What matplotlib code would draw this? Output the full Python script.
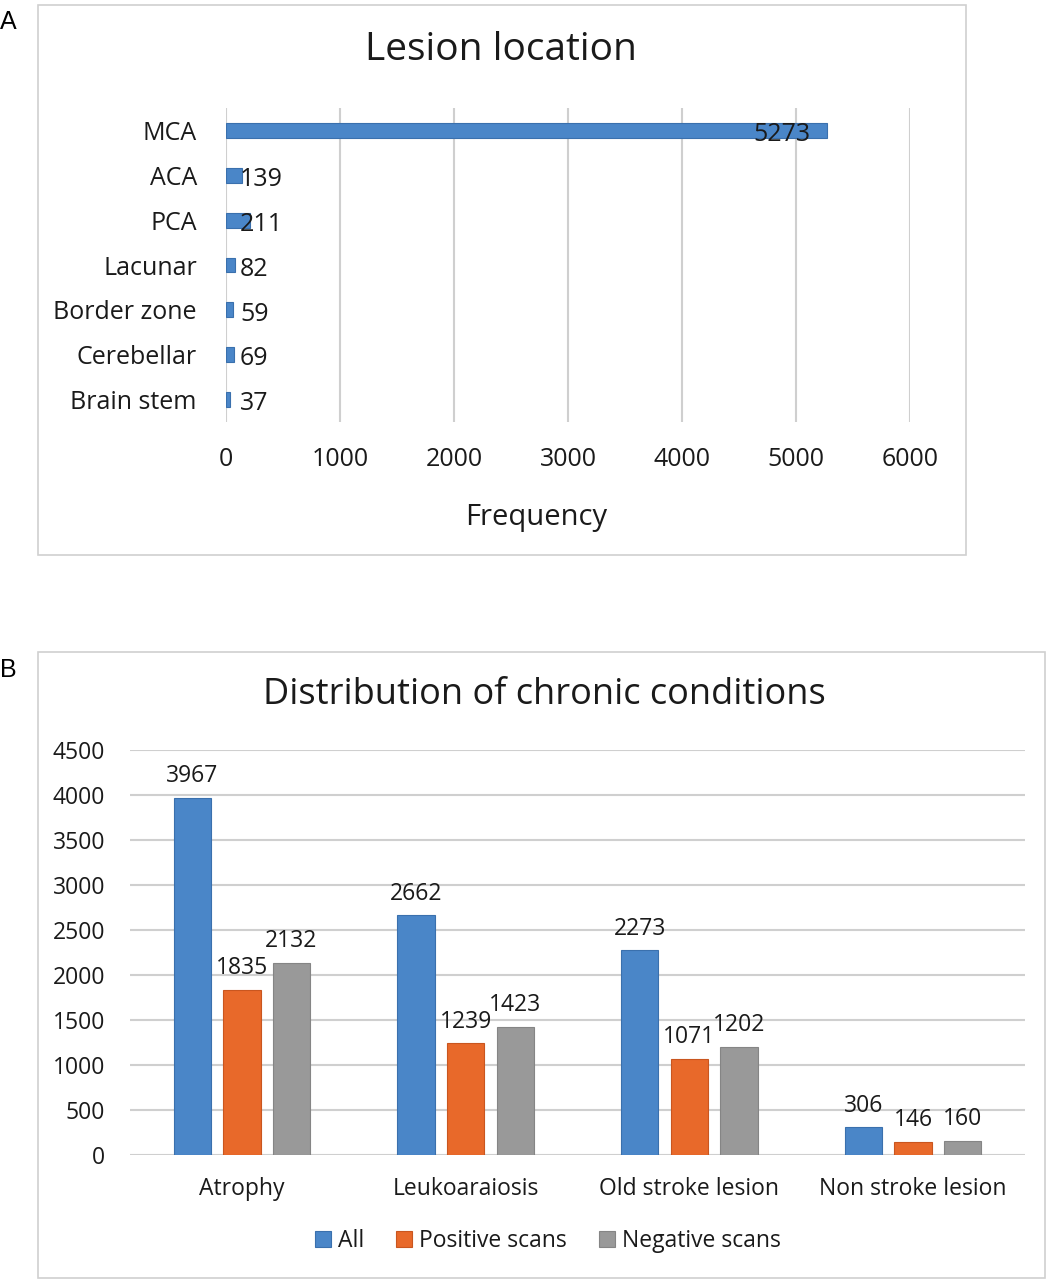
import numpy as np
import matplotlib
matplotlib.use("Agg")
import matplotlib.pyplot as plt
from matplotlib.patches import Rectangle

plt.rcParams['font.family'] = ['Open Sans', 'DejaVu Sans']

# ---------------- data ----------------
loc_labels = ['MCA', 'ACA', 'PCA', 'Lacunar', 'Border zone', 'Cerebellar', 'Brain stem']
loc_values = [5273, 139, 211, 82, 59, 69, 37]

cond_labels = ['Atrophy', 'Leukoaraiosis', 'Old stroke lesion', 'Non stroke lesion']
all_scans = [3967, 2662, 2273, 306]
pos_scans = [1835, 1239, 1071, 146]
neg_scans = [2132, 1423, 1202, 160]
series_names = ['All', 'Positive scans', 'Negative scans']

blue = '#4a86c8'
orange = '#e8692a'
gray = '#999999'
edges = ['#3a70ad', '#c9561f', '#858585']
grid_c = '#cfcfcf'
txt = '#1a1a1a'

W, H = 1053, 1280
fig = plt.figure(figsize=(W / 100, H / 100), dpi=100)


def fx(px):
    return px / W


def fy(py):
    return 1 - py / H


# panel frames
for (x0, y0, x1, y1) in [(38, 5, 966, 555), (38, 652, 1045, 1278)]:
    fig.add_artist(Rectangle((fx(x0), fy(y1)), fx(x1 - x0), (y1 - y0) / H,
                             transform=fig.transFigure, fill=False,
                             edgecolor='#d0d0d0', linewidth=1.2))

fig.text(fx(0), fy(22), 'A', fontsize=18, va='center', ha='left', family='Liberation Sans')
fig.text(fx(0), fy(670), 'B', fontsize=18, va='center', ha='left', family='Liberation Sans')

# =============================================
# Panel A: lesion location
# =============================================
axA = fig.add_axes([fx(226), fy(422), fx(910 - 226), (422 - 108) / H])
ypos = np.arange(len(loc_labels))
axA.barh(ypos, loc_values, height=0.33, color=blue, edgecolor=edges[0], linewidth=0.8, zorder=3)
axA.set_ylim(len(loc_labels) - 0.5, -0.5)
axA.set_xlim(0, 6000)
axA.set_xticks(range(0, 6001, 1000))
axA.set_yticks(ypos)
axA.set_yticklabels(loc_labels)
axA.xaxis.grid(True, color=grid_c, linewidth=1.5, zorder=0)
axA.set_axisbelow(True)
for s in axA.spines.values():
    s.set_visible(False)
axA.tick_params(axis='both', length=0, labelsize=18, colors=txt)
axA.tick_params(axis='x', pad=18)
axA.tick_params(axis='y', pad=21)

for i, v in enumerate(loc_values):
    if v > 1000:
        axA.annotate(str(v), (v, i), xytext=(-12, -3), textcoords='offset points',
                     ha='right', va='center', fontsize=18, color=txt)
    else:
        axA.annotate(str(v), (0, i), xytext=(10, -3), textcoords='offset points',
                     ha='left', va='center', fontsize=18, color=txt)

fig.text(fx(501), fy(50), 'Lesion location', fontsize=28, ha='center', va='center', color=txt)
fig.text(fx(536), fy(517), 'Frequency', fontsize=21, ha='center', va='center', color=txt)

# =============================================
# Panel B: chronic conditions
# =============================================
axB = fig.add_axes([fx(130), fy(1155), fx(1025 - 130), (1155 - 750) / H])
x = np.arange(len(cond_labels))
bw = 0.167
step = 0.222
for k, (vals, col) in enumerate(zip([all_scans, pos_scans, neg_scans], [blue, orange, gray])):
    bars = axB.bar(x + (k - 1) * step, vals, width=bw, color=col, edgecolor=edges[k],
                   linewidth=0.8, label=series_names[k], zorder=3)
    for b, v in zip(bars, vals):
        axB.annotate(str(v), (b.get_x() + b.get_width() / 2, v), xytext=(0, 7),
                     textcoords='offset points', ha='center', va='bottom',
                     fontsize=16.5, color=txt)

axB.set_xlim(-0.5, len(cond_labels) - 0.5)
axB.set_ylim(0, 4500)
axB.set_yticks(range(0, 4501, 500))
axB.set_xticks(x)
axB.set_xticklabels(cond_labels)
axB.yaxis.grid(True, color=grid_c, linewidth=1.5, zorder=0)
axB.set_axisbelow(True)
for s in axB.spines.values():
    s.set_visible(False)
axB.tick_params(axis='both', length=0, labelsize=16.5, colors=txt)
axB.tick_params(axis='x', pad=16)
axB.tick_params(axis='y', pad=18)

fig.text(fx(544), fy(695), 'Distribution of chronic conditions', fontsize=26,
         ha='center', va='center', color=txt)

fig.legend(loc='center', bbox_to_anchor=(fx(548), fy(1241)), ncol=3, frameon=False,
           fontsize=16.5, handlelength=0.7, handleheight=0.7, handletextpad=0.3,
           columnspacing=1.4, labelcolor=txt)

fig.savefig('out.png', dpi=100)
